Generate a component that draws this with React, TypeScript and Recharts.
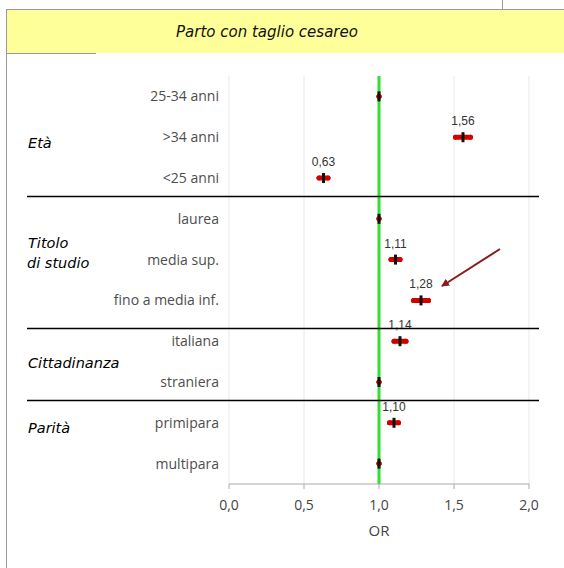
import React from "react";
import {
  ScatterChart,
  Scatter,
  XAxis,
  YAxis,
  CartesianGrid,
  ReferenceLine,
  ErrorBar,
} from "recharts";

const categories = [
  "25-34 anni",
  ">34 anni",
  "<25 anni",
  "laurea",
  "media sup.",
  "fino a media inf.",
  "italiana",
  "straniera",
  "primipara",
  "multipara",
];
const oddsRatio = [1, 1.56, 0.63, 1, 1.11, 1.28, 1.14, 1, 1.1, 1];
const ciLow = [1, 1.51, 0.6, 1, 1.08, 1.23, 1.1, 1, 1.07, 1];
const ciHigh = [1, 1.61, 0.66, 1, 1.14, 1.33, 1.18, 1, 1.13, 1];
const valueLabels = ["", "1,56", "0,63", "", "1,11", "1,28", "1,14", "", "1,10", ""];
const xTicks = [0, 0.5, 1, 1.5, 2];

const data = categories.map((name, i) => ({
  name,
  or: oddsRatio[i],
  err: [oddsRatio[i] - ciLow[i], ciHigh[i] - oddsRatio[i]],
  lbl: valueLabels[i],
}));

const SANS = "'Open Sans', 'DejaVu Sans', sans-serif";
const GROUP_FONT = "'DejaVu Sans', sans-serif";

function Marker(props: any) {
  const { cx, cy, payload } = props;
  return (
    <g>
      <rect x={cx - 1.5} y={cy - 5} width={3} height={10} fill="#111" />
      {payload.lbl && (
        <text
          x={cx}
          y={cy - 16}
          textAnchor="middle"
          dominantBaseline="central"
          fontSize={12}
          fill="#333"
          fontFamily="'Liberation Sans Narrow', 'Liberation Sans', sans-serif"
        >
          {payload.lbl}
        </text>
      )}
    </g>
  );
}

export default function App() {
  return (
    <div
      style={{
        position: "absolute",
        left: 0,
        top: 0,
        width: 564,
        height: 568,
        background: "#fff",
        overflow: "hidden",
      }}
    >
      <ScatterChart
        width={564}
        height={568}
        margin={{ top: 76, right: 35, bottom: 24, left: 29 }}
      >
        <CartesianGrid horizontal={false} stroke="#e8e8e8" />
        <XAxis
          type="number"
          dataKey="or"
          domain={[0, 2]}
          ticks={xTicks}
          tickFormatter={(v: number) => v.toFixed(1).replace(".", ",")}
          height={60}
          stroke="#aaa"
          tickSize={5}
          tickMargin={11}
          tick={{ fill: "#444", fontSize: 14, fontFamily: SANS }}
          label={{
            value: "OR",
            position: "insideBottom",
            offset: 8,
            fill: "#444",
            fontSize: 15,
            fontFamily: SANS,
          }}
        />
        <YAxis
          type="category"
          dataKey="name"
          allowDuplicatedCategory={false}
          reversed
          width={200}
          axisLine={false}
          tickLine={false}
          tickSize={0}
          tickMargin={10}
          tick={{ fill: "#4d4d4d", fontSize: 14, fontFamily: SANS }}
        />
        <ReferenceLine x={1} stroke="#2fe02f" strokeWidth={3} />
        <Scatter data={data} shape={Marker} isAnimationActive={false}>
          <ErrorBar
            dataKey="err"
            direction="x"
            width={0}
            stroke="#d40000"
            strokeWidth={5}
            strokeLinecap="round"
          />
        </Scatter>
      </ScatterChart>

      <svg
        width={564}
        height={568}
        style={{ position: "absolute", left: 0, top: 0, pointerEvents: "none" }}
      >
        <rect x={7} y={10} width={557} height={43} fill="#ffff99" />
        <line x1={6} y1={9.5} x2={564} y2={9.5} stroke="#999" />
        <line x1={502.5} y1={0} x2={502.5} y2={9} stroke="#999" />
        <line x1={6.5} y1={9} x2={6.5} y2={568} stroke="#999" />
        <line x1={6} y1={53.5} x2={96} y2={53.5} stroke="#999" />
        <text
          x={267}
          y={32}
          textAnchor="middle"
          dominantBaseline="central"
          fontSize={15}
          fontStyle="italic"
          fill="#111"
          fontFamily="'DejaVu Sans', sans-serif"
        >
          Parto con taglio cesareo
        </text>

        <g fontFamily={GROUP_FONT} fontStyle="italic" fontSize={14.5} fill="#000">
          <text x={28} y={143} dominantBaseline="central">Età</text>
          <text x={28} y={243} dominantBaseline="central">Titolo</text>
          <text x={27} y={263} dominantBaseline="central">di studio</text>
          <text x={28} y={363} dominantBaseline="central">Cittadinanza</text>
          <text x={28} y={428} dominantBaseline="central">Parità</text>
        </g>

        <g stroke="#000" strokeWidth={1.5}>
          <line x1={27} y1={196.5} x2={539} y2={196.5} />
          <line x1={27} y1={328.5} x2={539} y2={328.5} />
          <line x1={27} y1={400.5} x2={539} y2={400.5} />
        </g>

        <defs>
          <marker
            id="ah"
            markerWidth={8}
            markerHeight={8}
            refX={7}
            refY={4}
            orient="auto"
            markerUnits="userSpaceOnUse"
          >
            <path d="M0,0 L8,4 L0,8 Z" fill="#8b1a1a" />
          </marker>
        </defs>
        <line
          x1={500}
          y1={249}
          x2={442}
          y2={286}
          stroke="#8b1a1a"
          strokeWidth={2}
          markerEnd="url(#ah)"
        />
      </svg>
    </div>
  );
}
